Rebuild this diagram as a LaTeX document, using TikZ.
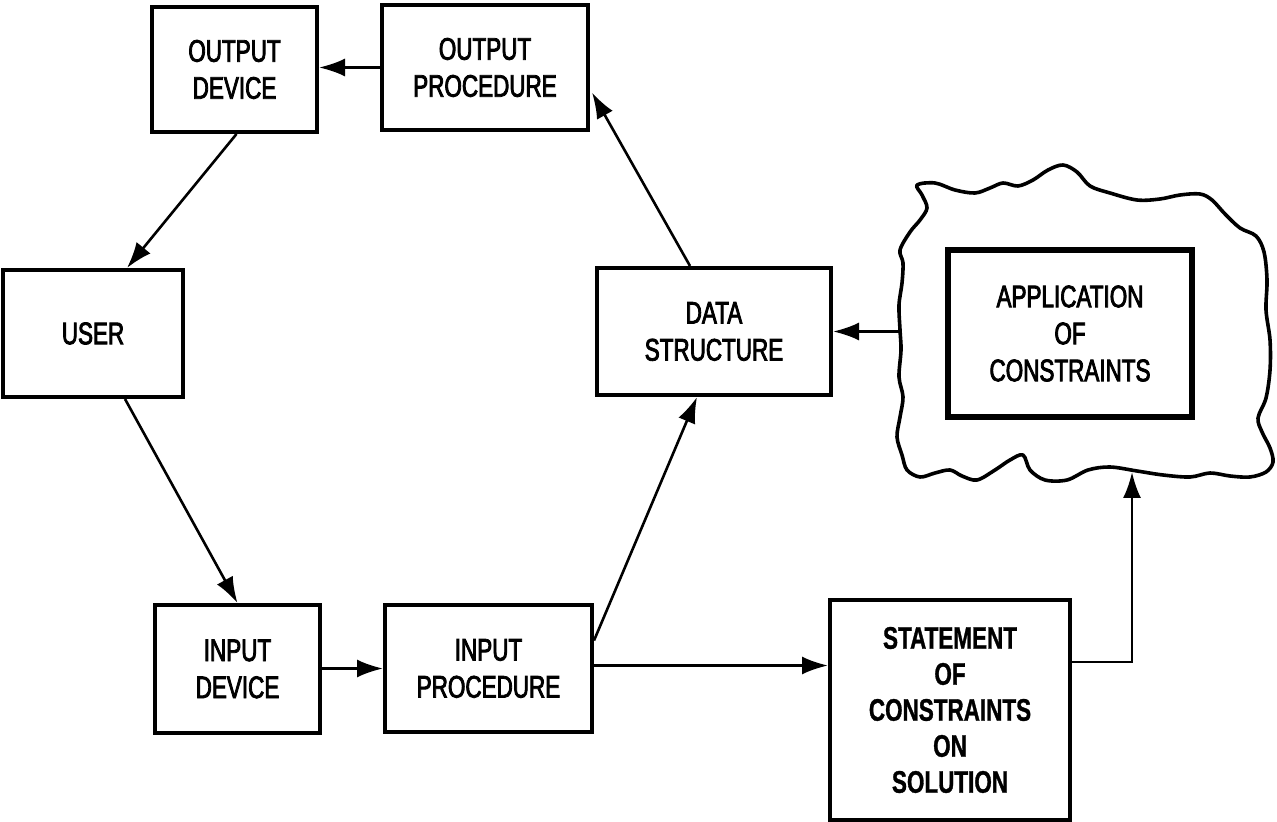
\documentclass[tikz,border=0pt]{standalone}
\usepackage{fontspec}
\setmainfont{Liberation Sans}[FakeStretch=0.72, FakeBold=2.6]
\newfontfamily\heavyfont{Liberation Sans Bold}[FakeStretch=0.72, FakeBold=1]
\usetikzlibrary{arrows.meta,calc}
\tikzset{
  box/.style={draw, line width=2pt, rectangle, align=center, inner sep=0pt,
    font=\fontsize{15.6pt}{18.5pt}\selectfont},
  thickbox/.style={box, line width=3pt},
  flow/.style={line width=1.3pt, -{Latex[length=13pt,width=9pt]}},
  cloudline/.style={line width=1.8pt, line join=round},
}
\begin{document}
\begin{tikzpicture}[x=0.5pt,y=-0.5pt]
\useasboundingbox (0,0) rectangle (1277,822);

% process boxes
\node[box, minimum width=82.5pt, minimum height=62.5pt] (odev) at (234.5,69.5) {OUTPUT\\DEVICE};
\node[box, minimum width=103pt, minimum height=62.5pt] (oproc) at (485,67.5) {OUTPUT\\PROCEDURE};
\node[box, minimum width=90pt, minimum height=63.5pt] (user) at (93,333.5) {USER};
\node[box, minimum width=117pt, minimum height=63.5pt] (dstruct) at (714,331.5) {DATA\\STRUCTURE};
\node[box, minimum width=82.5pt, minimum height=64pt] (idev) at (237.5,669) {INPUT\\DEVICE};
\node[box, minimum width=103.5pt, minimum height=63.5pt] (iproc) at (488.5,668.5) {INPUT\\PROCEDURE};
\node[box, minimum width=120pt, minimum height=110pt, font=\heavyfont\fontsize{15.6pt}{18pt}\selectfont] (stmt) at (950,710)
  {STATEMENT\\OF\\CONSTRAINTS\\ON\\SOLUTION};

% wavy outline around the constraint application
\draw[cloudline] plot[smooth cycle, tension=0.55] coordinates {
 (917,185) (935,183) (955,190) (975,193) (990,188) (1003,183) (1018,186)
 (1033,180) (1048,170) (1063,165) (1077,172) (1090,186) (1110,193) (1137,200)
 (1160,199) (1180,195) (1200,194) (1212,200) (1225,214) (1240,228) (1256,236)
 (1264,252) (1267,280) (1266,310) (1270,340) (1270,370) (1266,398) (1258,418)
 (1262,432) (1270,448) (1273,462) (1266,472) (1250,477) (1230,476) (1210,473)
 (1190,477) (1163,475) (1137,471) (1110,467) (1088,470) (1067,480) (1045,480)
 (1030,470) (1023,455) (1010,460) (995,470) (977,480) (962,476) (950,470)
 (935,473) (920,477) (907,470) (902,455) (897,437) (900,417) (903,397)
 (899,377) (901,350) (900,330) (899,305) (902,283) (903,263) (900,250)
 (910,232) (920,220) (927,208) (922,195)};
\coordinate (cloudW) at (900,331.5);
\coordinate (cloudS) at (1132,472);

\node[thickbox, minimum width=122pt, minimum height=83.5pt] (app) at (1070,333.5) {APPLICATION\\OF\\CONSTRAINTS};

% connector end points on box borders
\coordinate (odevOut) at ($(odev.south)+(2,0)$);
\coordinate (userIn) at ($(user.north)+(34,0)$);
\coordinate (userOut) at ($(user.south)+(32,0)$);
\coordinate (iprocUp) at ($(iproc.east)+(0,-28)$);
\coordinate (dstructIn) at ($(dstruct.south)+(-17,0)$);
\coordinate (dstructOut) at ($(dstruct.north)+(-24,0)$);
\coordinate (oprocIn) at ($(oproc.east)+(2,25)$);
\coordinate (iprocRight) at ($(iproc.east)+(0,-3)$);
\coordinate (stmtRight) at ($(stmt.east)+(0,-48)$);

% connectors
\draw[flow] (oproc.west) -- (oproc.west -| odev.east);
\draw[flow] (odevOut) -- (userIn);
\draw[flow] (userOut) -- (idev.north);
\draw[flow] (idev.east |- iproc.west) -- (iproc.west);
\draw[flow] (iprocUp) -- (dstructIn);
\draw[flow] (dstructOut) -- (oprocIn);
\draw[flow] (cloudW) -- (dstruct.east);
\draw[flow] (iprocRight) -- (iprocRight -| stmt.west);
\draw[flow] (stmtRight) -| (cloudS);
\end{tikzpicture}
\end{document}
